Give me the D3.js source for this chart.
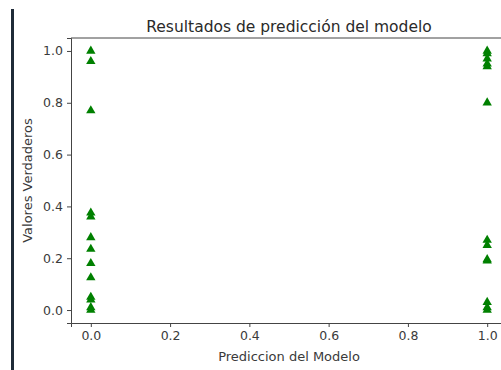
<!DOCTYPE html>
<html>
<head>
<meta charset="utf-8">
<script src="https://cdn.jsdelivr.net/npm/d3@7"></script>
<style>
  body { margin: 0; background: #fff; }
  svg { display: block; }
</style>
</head>
<body>
<div id="chart"></div>
<script>
// predicted class (x) and true values (y)
const predZero = [1.0, 0.96, 0.77, 0.375, 0.36, 0.28, 0.235, 0.18, 0.125, 0.05, 0.04, 0.01, 0.0];
const predOne = [1.0, 0.99, 0.97, 0.95, 0.94, 0.80, 0.27, 0.25, 0.195, 0.19, 0.03, 0.01, 0.0];
const xTicks = [0.0, 0.2, 0.4, 0.6, 0.8, 1.0];
const yTicks = [0.0, 0.2, 0.4, 0.6, 0.8, 1.0];

const points = predZero.map(v => ({ x: 0, y: v }))
  .concat(predOne.map(v => ({ x: 1, y: v })));

const W = 501, H = 370;
const margin = { top: 38, right: -6, bottom: 47, left: 71 };
const width = W - margin.left - margin.right,
  height = H - margin.top - margin.bottom;

const root = d3.select("#chart").append("svg")
  .attr("width", W)
  .attr("height", H)
  .style("font-family", "DejaVu Sans, sans-serif");

// dark strip on the left edge of the screenshot
root.append("rect")
  .attr("x", 11).attr("y", 9)
  .attr("width", 3).attr("height", H - 9)
  .attr("fill", "#1f2b38");

const svg = root.append("g")
  .attr("transform", `translate(${margin.left},${margin.top})`);

const x = d3.scaleLinear().domain([-0.05, 1.05]).range([0, width]);
const y = d3.scaleLinear().domain([-0.05, 1.05]).range([height, 0]);

// axes
const xAxis = svg.append("g")
  .attr("transform", `translate(0,${height})`)
  .call(d3.axisBottom(x).tickValues(xTicks).tickFormat(d3.format(".1f")).tickSizeOuter(0).tickSize(4).tickPadding(4));
const yAxis = svg.append("g")
  .call(d3.axisLeft(y).tickValues(yTicks).tickFormat(d3.format(".1f")).tickSizeOuter(0).tickSize(4).tickPadding(4));

[xAxis, yAxis].forEach(a => {
  a.selectAll("text").attr("font-size", 12.5).attr("fill", "#3a3a3a").attr("font-family", "DejaVu Sans, sans-serif");
  a.selectAll("line").attr("stroke", "#444").attr("stroke-width", 1);
  a.select(".domain").attr("stroke", "#444").attr("stroke-width", 1);
});

// top and right spines
svg.append("line")
  .attr("x1", 0).attr("x2", width).attr("y1", 0).attr("y2", 0)
  .attr("stroke", "#444").attr("stroke-width", 1);
svg.append("line")
  .attr("x1", width).attr("x2", width).attr("y1", 0).attr("y2", height)
  .attr("stroke", "#444").attr("stroke-width", 1);

// triangle markers
svg.append("g").selectAll("path")
  .data(points)
  .join("path")
  .attr("transform", d => `translate(${x(d.x)},${y(d.y)})`)
  .attr("d", d3.symbol().type(d3.symbolTriangle).size(38))
  .attr("fill", "green");

// title and labels
root.append("text")
  .attr("x", margin.left + width / 2)
  .attr("y", 32)
  .attr("text-anchor", "middle")
  .attr("font-size", 15.5)
  .attr("fill", "#2a2a2a")
  .text("Resultados de predicción del modelo");

root.append("text")
  .attr("x", margin.left + width / 2)
  .attr("y", 361)
  .attr("text-anchor", "middle")
  .attr("font-size", 13)
  .attr("fill", "#3a3a3a")
  .text("Prediccion del Modelo");

root.append("text")
  .attr("transform", `translate(32,${margin.top + height / 2}) rotate(-90)`)
  .attr("text-anchor", "middle")
  .attr("font-size", 13)
  .attr("fill", "#3a3a3a")
  .text("Valores Verdaderos");
</script>
</body>
</html>
